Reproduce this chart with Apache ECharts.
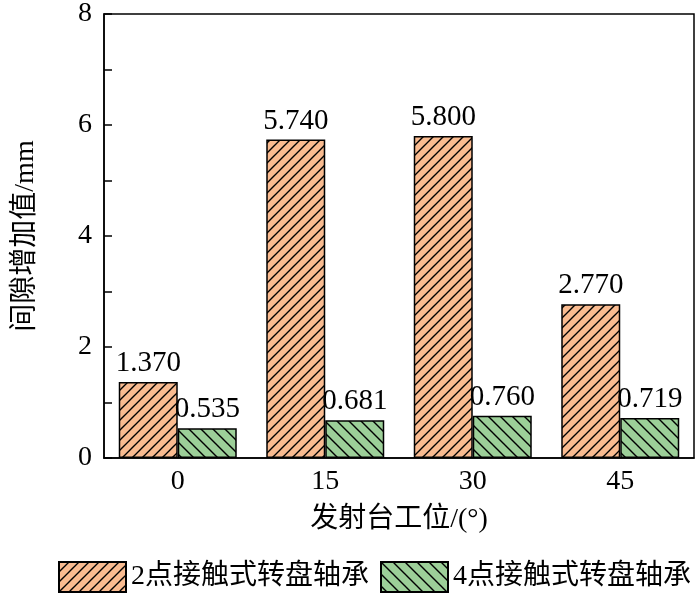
<!DOCTYPE html>
<html>
<head>
<meta charset="utf-8">
<script src="https://cdn.jsdelivr.net/npm/echarts@6/dist/echarts.min.js"></script>
<style>
  html, body { margin: 0; padding: 0; background: #fff; }
  #main { width: 700px; height: 593px; }
</style>
</head>
<body>
<div id="main"></div>
<script>
  // 数据
  var categories = ['0', '15', '30', '45'];
  var seriesNames = ['2点接触式转盘轴承', '4点接触式转盘轴承'];
  var twoPoint = [1.370, 5.740, 5.800, 2.770];
  var fourPoint = [0.535, 0.681, 0.760, 0.719];

  var font = '"Liberation Serif", "Noto Sans CJK SC", serif';

  // 斜线填充
  function hatch(fill, size, dir) {
    var c = document.createElement('canvas');
    c.width = size; c.height = size;
    var ctx = c.getContext('2d');
    ctx.fillStyle = fill;
    ctx.fillRect(0, 0, size, size);
    ctx.strokeStyle = '#000';
    ctx.lineWidth = 1.4;
    ctx.beginPath();
    if (dir === '/') {
      ctx.moveTo(-1, size + 1); ctx.lineTo(size + 1, -1);
      ctx.moveTo(-size / 2, size / 2); ctx.lineTo(size / 2, -size / 2);
      ctx.moveTo(size / 2, size * 1.5); ctx.lineTo(size * 1.5, size / 2);
    } else {
      ctx.moveTo(-1, -1); ctx.lineTo(size + 1, size + 1);
      ctx.moveTo(-size / 2, size / 2); ctx.lineTo(size / 2, size * 1.5);
      ctx.moveTo(size / 2, -size / 2); ctx.lineTo(size * 1.5, size / 2);
    }
    ctx.stroke();
    return { image: c, repeat: 'repeat' };
  }

  var chart = echarts.init(document.getElementById('main'));

  var labelStyle = {
    show: true,
    position: 'top',
    distance: 4,
    color: '#000',
    fontSize: 29,
    fontFamily: font,
    formatter: function (p) { return p.value.toFixed(3); }
  };

  var option = {
    animation: false,
    grid: {
      left: 104, right: 6, top: 10, bottom: 135,
      show: true, borderColor: '#000', borderWidth: 1.5
    },
    legend: {
      top: 561, left: 58, width: 642,
      padding: 0,
      icon: 'rect',
      itemWidth: 67, itemHeight: 30, itemGap: 11,
      textStyle: { fontSize: 28, fontFamily: font, color: '#000' },
      data: seriesNames
    },
    xAxis: {
      type: 'category',
      data: categories,
      name: '发射台工位/(°)',
      nameLocation: 'middle',
      nameGap: 48,
      nameTextStyle: { fontSize: 28, fontFamily: font, color: '#000' },
      axisLine: { lineStyle: { color: '#000', width: 1.5 } },
      axisTick: { inside: true, length: 7, lineStyle: { color: '#000', width: 1.5 } },
      axisLabel: { fontSize: 28, fontFamily: font, color: '#000', margin: 10 }
    },
    yAxis: {
      type: 'value',
      min: 0, max: 8, interval: 2,
      name: '间隙增加值/mm',
      nameLocation: 'middle',
      nameGap: 64,
      nameTextStyle: { fontSize: 28, fontFamily: font, color: '#000' },
      axisLine: { show: true, lineStyle: { color: '#000', width: 1.5 } },
      axisTick: { show: true, inside: true, length: 8, lineStyle: { color: '#000', width: 1.5 } },
      minorTick: { show: true, splitNumber: 2, length: 8, lineStyle: { color: '#000', width: 1.5 } },
      splitLine: { show: false },
      axisLabel: { fontSize: 28, fontFamily: font, color: '#000', margin: 12 }
    },
    series: [{
      name: seriesNames[0],
      type: 'bar',
      data: twoPoint,
      barGap: '0%',
      barCategoryGap: '20%',
      itemStyle: { color: hatch('#F9BB90', 10, '/'), borderColor: '#000', borderWidth: 1.5 },
      label: labelStyle
    }, {
      name: seriesNames[1],
      type: 'bar',
      data: fourPoint,
      barGap: '0%',
      barCategoryGap: '20%',
      itemStyle: { color: hatch('#9CCF98', 12, '\\'), borderColor: '#000', borderWidth: 1.5 },
      label: labelStyle
    }]
  };

  chart.setOption(option);
</script>
</body>
</html>
